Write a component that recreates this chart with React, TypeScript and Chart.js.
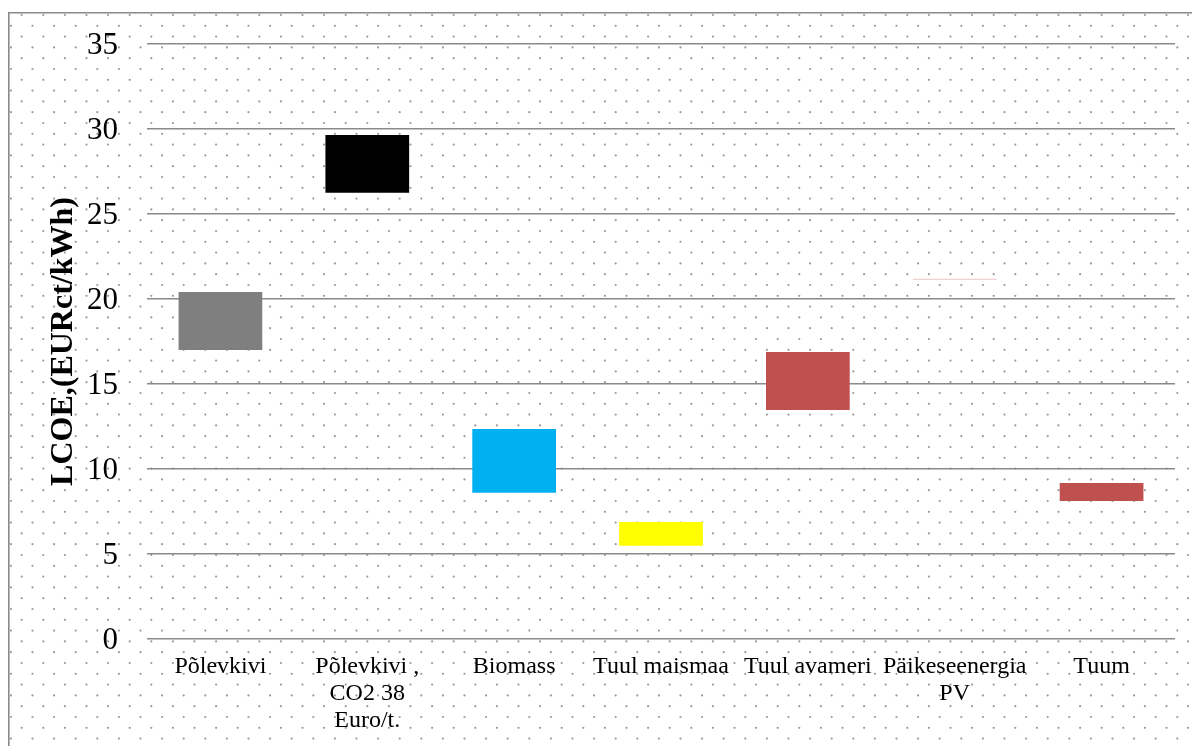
import React, { useEffect, useRef } from "react";
import { Chart, registerables } from "chart.js";

Chart.register(...registerables);

const categories: string[][] = [
  ["Põlevkivi"],
  ["Põlevkivi ,", "CO2 38", "Euro/t."],
  ["Biomass"],
  ["Tuul maismaa"],
  ["Tuul avameri"],
  ["Päikeseenergia", "PV"],
  ["Tuum"],
];
const lowValues = [17.0, 26.25, 8.6, 5.49, 13.47, 21.13, 8.12];
const highValues = [20.41, 29.65, 12.35, 6.88, 16.88, 21.19, 9.18];
const barColors = ["#7F7F7F", "#000000", "#00B0F0", "#FFFF00", "#C0504D", "rgba(192,80,77,0.35)", "#C0504D"];
const yTicks = [0, 5, 10, 15, 20, 25, 30, 35];
const yTitle = "LCOE,(EURct/kWh)";

const W = 1192;
const H = 746;
const AREA_TOP = 44;
const AREA_BOTTOM = 639;
const AREA_LEFT = 147;
const AREA_RIGHT = 1175;

const backgroundPlugin = {
  id: "dotBackground",
  beforeDraw(chart: any) {
    const ctx = chart.ctx as CanvasRenderingContext2D;
    ctx.save();
    ctx.fillStyle = "#ffffff";
    ctx.fillRect(0, 0, W, H);
    const fx = 8;
    const fy = 12;
    const step = 21.6;
    const half = 10.8;
    ctx.fillStyle = "#9a9a9a";
    let row = 0;
    for (let y = fy + 3; y < H; y += half, row++) {
      const off = row % 2 === 0 ? 13.7 : 13.7 + half;
      for (let x = fx + off - step; x < W; x += step) {
        if (x <= fx + 2) continue;
        ctx.beginPath();
        ctx.arc(x, y, 1.1, 0, Math.PI * 2);
        ctx.fill();
      }
    }
    ctx.strokeStyle = "#8a8a8a";
    ctx.lineWidth = 1.6;
    ctx.beginPath();
    ctx.moveTo(fx + 0.8, H);
    ctx.lineTo(fx + 0.8, fy + 0.8);
    ctx.lineTo(W, fy + 0.8);
    ctx.stroke();
    ctx.restore();
  },
};

export default function App() {
  const ref = useRef<HTMLCanvasElement | null>(null);
  useEffect(() => {
    if (!ref.current) return;
    const data = lowValues.map((lo, i) => [lo, highValues[i]]);
    const chart = new Chart(ref.current, {
      type: "bar",
      data: {
        labels: categories as any,
        datasets: [
          {
            data: data as any,
            backgroundColor: barColors,
            borderWidth: 0,
            categoryPercentage: 1,
            barPercentage: 0.57,
          },
        ],
      },
      plugins: [backgroundPlugin],
      options: {
        responsive: false,
        animation: false,
        devicePixelRatio: 1,
        layout: { padding: { left: 0, top: AREA_TOP, right: W - AREA_RIGHT, bottom: 0 } },
        plugins: {
          legend: { display: false },
          tooltip: { enabled: false },
        },
        scales: {
          x: {
            grid: { display: false, drawTicks: false },
            border: { display: false },
            ticks: {
              autoSkip: false,
              maxRotation: 0,
              minRotation: 0,
              padding: 14,
              color: "#000000",
              font: { family: "'Liberation Serif', 'Times New Roman', serif", size: 24, lineHeight: 1.13 },
            },
            afterFit(scale: any) {
              scale.height = H - AREA_BOTTOM;
              scale.paddingLeft = 0;
              scale.paddingRight = 0;
            },
          },
          y: {
            min: 0,
            max: 35,
            afterBuildTicks(scale: any) {
              scale.ticks = yTicks.map((v) => ({ value: v }));
            },
            grid: { color: "#8a8a8a", lineWidth: 1.6, drawTicks: false },
            border: { display: false },
            ticks: {
              padding: 29,
              labelOffset: 2,
              color: "#000000",
              font: { family: "'Liberation Serif', 'Times New Roman', serif", size: 31 },
            },
            title: {
              display: true,
              text: yTitle,
              color: "#000000",
              padding: { top: 45, bottom: 0 },
              font: { family: "'Liberation Serif', 'Times New Roman', serif", size: 32, weight: "bold", lineHeight: 1.2 },
            },
            afterFit(scale: any) {
              scale.width = AREA_LEFT;
              scale.paddingTop = 0;
              scale.paddingBottom = 0;
            },
          },
        },
      },
    });
    return () => chart.destroy();
  }, []);
  return (
    <div style={{ position: "absolute", left: 0, top: 0, width: W, height: H, overflow: "hidden" }}>
      <canvas ref={ref} width={W} height={H} style={{ display: "block", width: W, height: H }} />
    </div>
  );
}
